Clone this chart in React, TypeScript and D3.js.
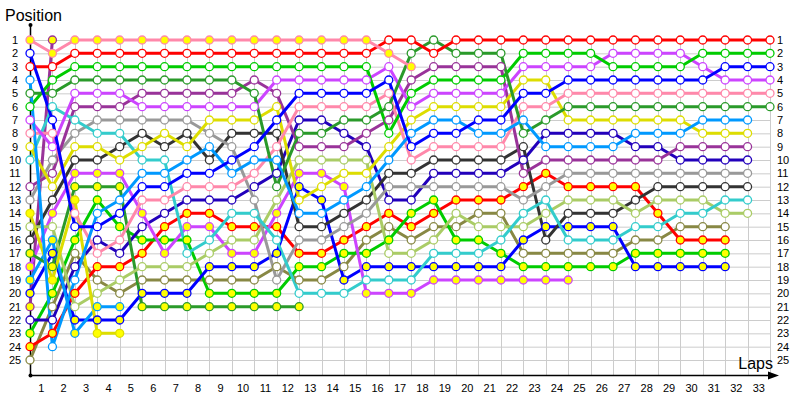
import React from 'react';
import * as d3 from 'd3';

const laps = d3.range(1, 34);
const positions = d3.range(1, 26);

// positions per lap, index 0 = start (lap 0) .. 33
const pinkY = [1,2,1,1,1,1,1,1,1,1,1,1,1,1,1,1,2,3];
const blueW = [2,7,15,15,14,12,12,11,11,10,9,7,5,5,5,5,4,9,8,8,7,7,5,5,4,4,4,4,4,4,4,3,3,3];
const redW = [3,3,2,2,2,2,2,2,2,2,2,2,2,2,2,2,1,1,2,1,1,1,1,1,1,1,1,1,1,1,1,1,1,1];
const lblueW = [4,24,19,14,13,11,11,10,9,11,10,10,14,14,13,12,10,8,7,7,8,8,7,9,9,9,9,8,8,8,7,7,7];
const dgreenW = [5,5,4,4,4,4,4,4,4,4,5,12,8,8,7,7,6,2,1,2,2,2,8,7,6,6,6,6,6,6,6,6,6,6];
const greenW = [6,4,3,3,3,3,3,3,3,3,3,3,3,3,3,3,8,5,4,4,4,4,2,2,2,2,3,3,3,3,2,2,2,2];
const magW = [7,9,5,5,5,6,6,6,6,6,6,4,4,4,4,4,3,6,5,5,5,5,3,3,3,3,2,2,2,2,3,4,4,4];
const pinkW = [8,8,14,17,16,13,13,12,12,12,11,9,6,6,6,6,5,10,9,9,9,9,6,6,5,5,5,5,5,5,5,5,5,5];
const yellowW = [9,12,9,9,10,9,8,9,7,7,7,6,13,12,11,11,9,7,6,6,6,6,4,4,7,7,7,7,7,7,8,8,8];
const cyanW = [10,6,7,8,8,10,10,17,16,14,14,16,20,20,20,19,19,19,17,17,17,16,14,13,16,16,16,15,15,14,14,13,13];
const purpleW = [12,11,6,6,6,5,5,5,5,5,4,5,9,9,9,8,7,4,3,3,3,3,11,10,10,10,10,10,10,9,9,9,9];
const grayW = [13,10,8,7,7,7,7,7,8,9,13,19,16,16,15,14,12,12,12,12,12,12,13,12,11,11,11,11,11,11,11,11,11];
const yellowY = [14,19,13,23,23];
const lolivW = [15,15,21,20,19,18,18,18,17,16,16,13,10,10,10,10,17,17,16,14,15,15,15,14,13,13,13,14,13,13,13,14,14];
const dgrayW = [16,13,10,10,9,8,9,8,10,8,8,8,15,15,14,13,11,11,10,10,10,10,9,16,14,14,14,13,12,12,12,12,12];
const dgreenY = [17,18,12,12,12,21,21,21,21,21,21,21,21];
const magY = [18,14,11,11,11,14,17,15,15,17,17,14,11,11,12,20,20,20,19,19,19,19,19,19,19];
const lblueY = [19,16,23,21,21];
const blueY = [20,17,22,22,22,20,20,20,18,18,18,17,12,13,19,18,18,18,18,18,18,18,16,15,15,15,15,18,18,18,18,18];
const purpleY = [21,1];
const navyW = [22,22,18,16,17,15,14,13,13,13,12,11,7,7,8,9,13,13,11,11,11,11,10,8,8,8,8,9,9,10,10,10,10];
const greenY = [23,20,16,13,15,16,16,16,20,20,20,20,18,18,17,17,16,14,13,16,16,17,18,18,18,18,18,17,17,17,17,17];
const redY = [24,23,20,18,18,17,15,14,14,15,15,15,17,17,16,15,14,15,14,13,13,13,12,11,12,12,12,12,14,16,16,16];
const olivW = [25,21,17,19,20,19,19,19,19,19,19,18,19,19,18,16,15,16,15,15,14,14,17,17,17,17,17,16,16,15,15,15];

const C = {
  pink: '#ff88aa', red: '#ff0000', green: '#00cc00', dgreen: '#2a9a2a', mag: '#cc44ff',
  purple: '#993399', gray: '#999999', cyan: '#33cccc', yellow: '#dddd00', dgray: '#333333',
  lblue: '#0099ff', blue: '#0000ff', navy: '#2200bb', loliv: '#aacc66', oliv: '#888844',
};

type Series = { color: string; filled: boolean; values: number[] };
const series: Series[] = [
  { color: C.oliv, filled: false, values: olivW },
  { color: C.red, filled: true, values: redY },
  { color: C.green, filled: true, values: greenY },
  { color: C.navy, filled: false, values: navyW },
  { color: C.purple, filled: true, values: purpleY },
  { color: C.blue, filled: true, values: blueY },
  { color: C.lblue, filled: true, values: lblueY },
  { color: C.mag, filled: true, values: magY },
  { color: C.dgreen, filled: true, values: dgreenY },
  { color: C.dgray, filled: false, values: dgrayW },
  { color: C.loliv, filled: false, values: lolivW },
  { color: C.yellow, filled: true, values: yellowY },
  { color: C.gray, filled: false, values: grayW },
  { color: C.purple, filled: false, values: purpleW },
  { color: C.cyan, filled: false, values: cyanW },
  { color: C.yellow, filled: false, values: yellowW },
  { color: C.pink, filled: false, values: pinkW },
  { color: C.mag, filled: false, values: magW },
  { color: C.green, filled: false, values: greenW },
  { color: C.dgreen, filled: false, values: dgreenW },
  { color: C.lblue, filled: false, values: lblueW },
  { color: C.red, filled: false, values: redW },
  { color: C.blue, filled: false, values: blueW },
  { color: C.pink, filled: true, values: pinkY },
];

export default function App() {
  const x = d3.scaleLinear().domain([0, 33]).range([30, 770]);
  const y = d3.scaleLinear().domain([1, 25]).range([40, 360]);
  const line = d3.line<number>().x((_, i) => x(i)).y((d) => y(d));
  const font = 'Liberation Sans, Arial, sans-serif';
  return (
    <svg width={800} height={400} style={{ position: 'absolute', left: 0, top: 0, background: '#fff' }}>
      <g stroke="#cccccc" strokeWidth={1}>
        {positions.map((p) => (
          <line key={'h' + p} x1={30} x2={770} y1={y(p) + 0.5} y2={y(p) + 0.5} />
        ))}
        {laps.map((l) => (
          <line key={'v' + l} x1={Math.round(x(l)) + 0.5} x2={Math.round(x(l)) + 0.5} y1={40} y2={375} />
        ))}
      </g>
      <g stroke="#000" strokeWidth={1.5}>
        <line x1={30.5} x2={30.5} y1={25} y2={375} />
        <line x1={30} x2={772} y1={375.5} y2={375.5} />
      </g>
      <circle cx={30.5} cy={25} r={2} fill="#000" />
      <circle cx={30.5} cy={375.5} r={2} fill="#000" />
      <path d="M768,371.5 L779,375.5 L768,379.5 Z" fill="#000" />
      <text x={5} y={21} fontFamily={font} fontSize={16}>Position</text>
      <text x={773} y={369} fontFamily={font} fontSize={16} textAnchor="end">Laps</text>
      <g fontFamily={font} fontSize={11} fill="#000">
        {positions.map((p) => (
          <text key={'l' + p} x={15} y={y(p) + 4} textAnchor="middle">{p}</text>
        ))}
        {positions.map((p) => (
          <text key={'r' + p} x={777} y={y(p) + 4} textAnchor="start">{p}</text>
        ))}
        {laps.map((l) => (
          <text key={'x' + l} x={x(l - 0.5)} y={392} textAnchor="middle">{l}</text>
        ))}
      </g>
      <g fill="none" strokeWidth={3} strokeLinejoin="round">
        {series.map((s, i) => (
          <path key={'s' + i} d={line(s.values) || ''} stroke={s.color} />
        ))}
      </g>
      <g strokeWidth={1.3}>
        {series.map((s, i) =>
          s.values.map((v, j) => (
            <circle key={'c' + i + '-' + j} cx={x(j)} cy={y(v)} r={4} fill={s.filled ? '#ffff00' : '#ffffff'} stroke={s.color} />
          ))
        )}
      </g>
    </svg>
  );
}
